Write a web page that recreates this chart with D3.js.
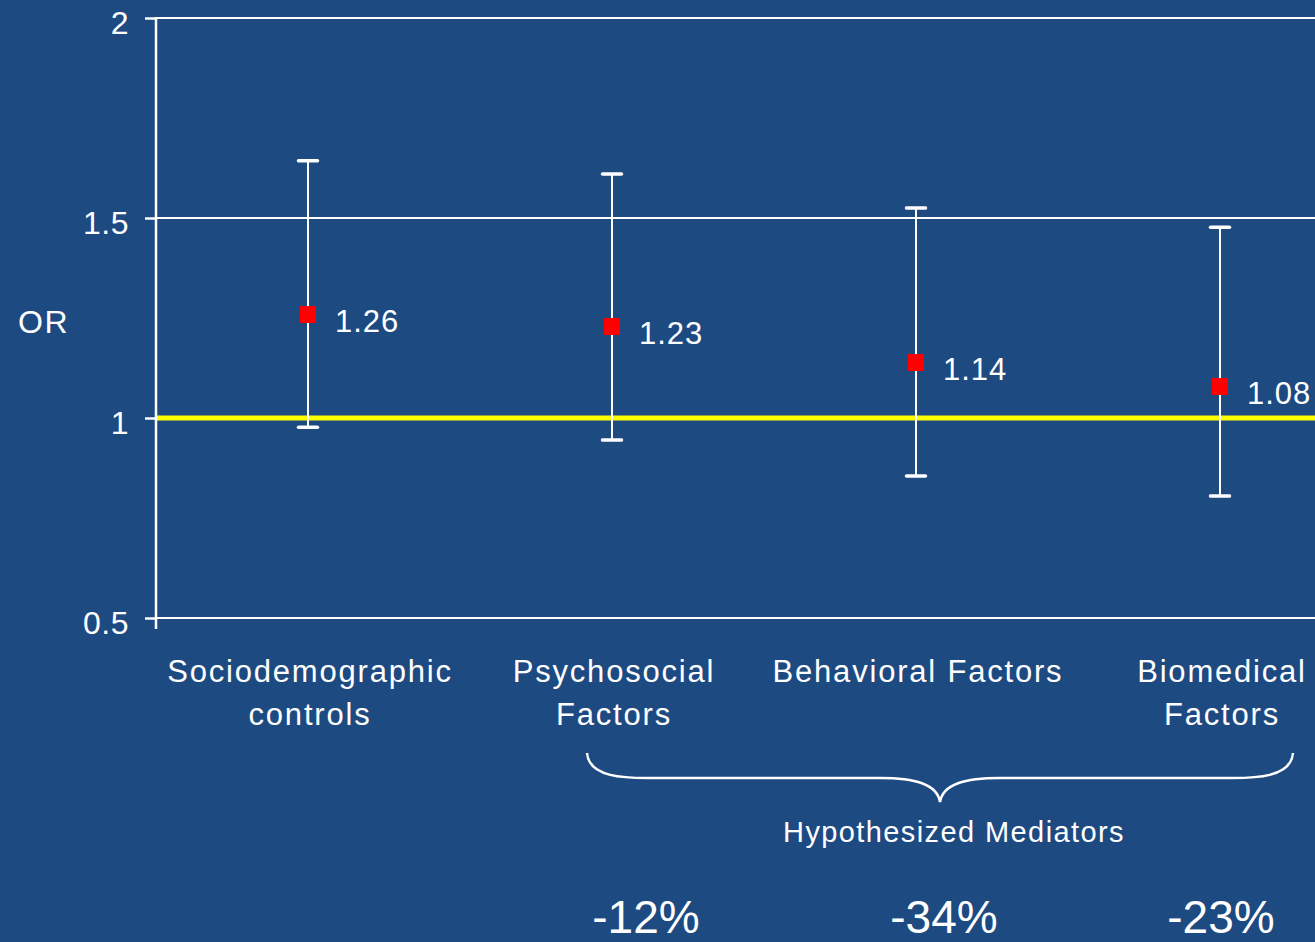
<!DOCTYPE html>
<html>
<head>
<meta charset="utf-8">
<script src="https://cdn.jsdelivr.net/npm/d3@7/dist/d3.min.js"></script>
<style>
  html, body { margin: 0; padding: 0; background: #1E4A82; overflow: hidden; }
  svg { display: block; font-family: "Liberation Sans", Arial, sans-serif; }
</style>
</head>
<body>
<svg id="chart" width="1315" height="942"></svg>
<script>
// Odds ratios with 95% confidence intervals, by adjustment model
const categories = ["Sociodemographic controls", "Psychosocial Factors", "Behavioral Factors", "Biomedical Factors"];
const categoryLines = [["Sociodemographic", "controls"], ["Psychosocial", "Factors"], ["Behavioral Factors"], ["Biomedical", "Factors"]];
const orValues = [1.26, 1.23, 1.14, 1.08];
const ciLower = [0.977, 0.945, 0.855, 0.805];
const ciUpper = [1.643, 1.61, 1.525, 1.477];
const yTicks = [0.5, 1, 1.5, 2];
const yTickLabels = ["0.5", "1", "1.5", "2"];
const reductionLabels = ["-12%", "-34%", "-23%"];
const mediatorCategories = ["Psychosocial Factors", "Behavioral Factors", "Biomedical Factors"];

const W = 1315, H = 942;
const svg = d3.select("#chart");
const bg = "#1E4A82";
svg.append("rect").attr("width", W).attr("height", H).attr("fill", bg);

const plotLeft = 156, plotTop = 18, plotBottom = 618;
const bandW = 304;
const x = d3.scaleBand().domain(categories).range([plotLeft, plotLeft + bandW * categories.length]).padding(0);
const xc = c => x(c) + x.bandwidth() / 2;
const y = d3.scaleLinear().domain([0.5, 2]).range([plotBottom, plotTop]);

// Horizontal gridlines at the y ticks
svg.append("g").selectAll("line").data(yTicks).join("line")
  .attr("x1", plotLeft).attr("x2", W)
  .attr("y1", d => y(d)).attr("y2", d => y(d))
  .attr("stroke", "#fff").attr("stroke-width", 2);

// Reference line at OR = 1
svg.append("line")
  .attr("x1", plotLeft).attr("x2", W)
  .attr("y1", y(1)).attr("y2", y(1))
  .attr("stroke", "#FFFF00").attr("stroke-width", 5);

// Y axis
const yAxis = d3.axisLeft(y).tickValues(yTicks).tickSize(11).tickPadding(16)
  .tickFormat((d, i) => yTickLabels[i]);
const gy = svg.append("g").attr("transform", `translate(${plotLeft},0)`).call(yAxis);
gy.select(".domain").remove();
gy.selectAll(".tick line").attr("stroke", "#fff").attr("stroke-width", 2.5);
gy.selectAll(".tick text").attr("fill", "#fff").attr("font-size", 32)
  .attr("letter-spacing", 0.5).attr("dy", "0.47em")
  .attr("font-family", "'Liberation Sans', Arial, sans-serif");
gy.append("line").attr("x1", 0).attr("x2", 0).attr("y1", plotTop - 1).attr("y2", plotBottom + 11)
  .attr("stroke", "#fff").attr("stroke-width", 2.5);

svg.append("text").attr("x", 18).attr("y", 333).attr("fill", "#fff")
  .attr("font-size", 32).attr("letter-spacing", 1.5).text("OR");

// Error bars
const g = svg.append("g");
const capW = 19;
categories.forEach((c, i) => {
  const cx = xc(c);
  g.append("line").attr("x1", cx).attr("x2", cx)
    .attr("y1", y(ciUpper[i])).attr("y2", y(ciLower[i]))
    .attr("stroke", "#fff").attr("stroke-width", 2);
  [ciUpper[i], ciLower[i]].forEach(v => {
    g.append("line").attr("x1", cx - capW / 2).attr("x2", cx + capW / 2)
      .attr("y1", y(v)).attr("y2", y(v))
      .attr("stroke", "#fff").attr("stroke-width", 3.5).attr("stroke-linecap", "round");
  });
  g.append("rect").attr("x", cx - 8).attr("y", y(orValues[i]) - 8)
    .attr("width", 16).attr("height", 17).attr("fill", "#FF0000");
  g.append("text").attr("x", cx + 27).attr("y", y(orValues[i]) + 18)
    .attr("fill", "#fff").attr("font-size", 31).attr("letter-spacing", 1)
    .text(orValues[i].toFixed(2));
});

// Category labels
categories.forEach((c, i) => {
  const t = svg.append("text").attr("x", xc(c) + 2).attr("y", 682)
    .attr("fill", "#fff").attr("font-size", 31).attr("letter-spacing", 1.8)
    .attr("text-anchor", "middle");
  categoryLines[i].forEach((ln, k) => {
    t.append("tspan").attr("x", xc(c) + 2).attr("dy", k === 0 ? 0 : 43).text(ln);
  });
});

// Brace grouping the mediator models
const bx0 = xc(mediatorCategories[0]) - 25;
const bx1 = xc(mediatorCategories[2]) + 73;
const bm = (bx0 + bx1) / 2;
const by0 = 753, by1 = 778, by2 = 802;
const brace = d3.path();
brace.moveTo(bx0, by0);
brace.bezierCurveTo(bx0 + 2, by1, bx0 + 40, by1, bx0 + 60, by1);
brace.lineTo(bm - 60, by1);
brace.bezierCurveTo(bm - 25, by1, bm - 3, by1 + 6, bm, by2);
brace.bezierCurveTo(bm + 3, by1 + 6, bm + 25, by1, bm + 60, by1);
brace.lineTo(bx1 - 60, by1);
brace.bezierCurveTo(bx1 - 40, by1, bx1 - 2, by1, bx1, by0);
svg.append("path").attr("d", brace.toString()).attr("fill", "none")
  .attr("stroke", "#fff").attr("stroke-width", 2.5);

svg.append("text").attr("x", bm + 14).attr("y", 842).attr("text-anchor", "middle")
  .attr("fill", "#fff").attr("font-size", 29).attr("letter-spacing", 1.4)
  .text("Hypothesized Mediators");

// Percent reduction in excess odds for each mediator block
const reductionNudge = [34, 28, 1];
mediatorCategories.forEach((c, i) => {
  svg.append("text").attr("x", xc(c) + reductionNudge[i]).attr("y", 933)
    .attr("text-anchor", "middle").attr("fill", "#fff").attr("font-size", 46)
    .text(reductionLabels[i]);
});
</script>
</body>
</html>
